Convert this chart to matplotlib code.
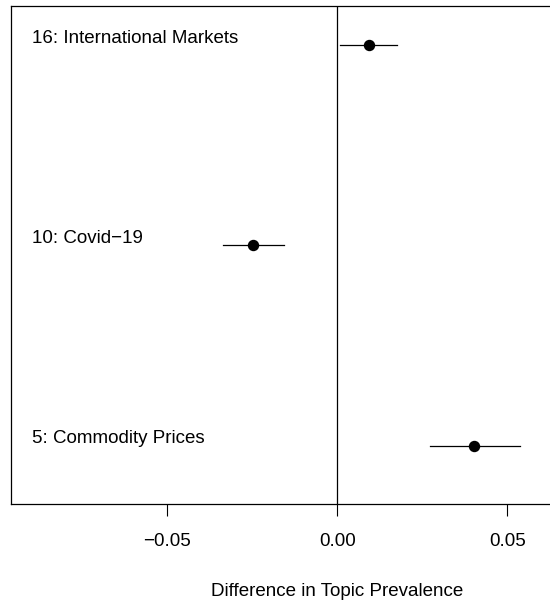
import matplotlib
matplotlib.use("Agg")
import matplotlib.pyplot as plt

# Topic prevalence differences (point estimate and 95% interval)
topics = ["16: International Markets", "10: Covid\u221219", "5: Commodity Prices"]
estimates = [0.0094, -0.0247, 0.0403]
lower = [0.0009, -0.0335, 0.0271]
upper = [0.0174, -0.0156, 0.0538]
xticks = [-0.05, 0.0, 0.05]
xtick_labels = ["\u22120.05", "0.00", "0.05"]

plt.rcParams['font.family'] = ['Liberation Sans', 'DejaVu Sans']

fig = plt.figure(figsize=(5.5, 6.06), dpi=100)
W, H = 550, 606
left, right, top, bottom = 11, 552, 6, 504
ax = fig.add_axes([left / W, 1 - bottom / H, (right - left) / W, (bottom - top) / H])

ypos = [3, 2, 1]
for y, name, est, lo, hi in zip(ypos, topics, estimates, lower, upper):
    ax.plot([lo, hi], [y, y], color="black", lw=0.9)
    ax.plot(est, y, "o", color="black", ms=7.2)
    ax.text(-0.0897, y + 0.035, name, fontsize=13.5, ha="left", va="center")

ax.axvline(0, color="black", lw=0.9)

ax.set_xlim(-0.0959, 0.0631)
ax.set_ylim(0.71, 3.195)
ax.set_yticks([])
ax.set_xticks(xticks)
ax.set_xticklabels(xtick_labels, fontsize=13.5)
ax.tick_params(axis="x", length=8.6, width=0.8, pad=12)
for s in ax.spines.values():
    s.set_linewidth(0.9)

fig.text(337 / W, 1 - 592 / H, "Difference in Topic Prevalence", fontsize=13.5,
         ha="center", va="center")

fig.savefig("out.png", dpi=100)
